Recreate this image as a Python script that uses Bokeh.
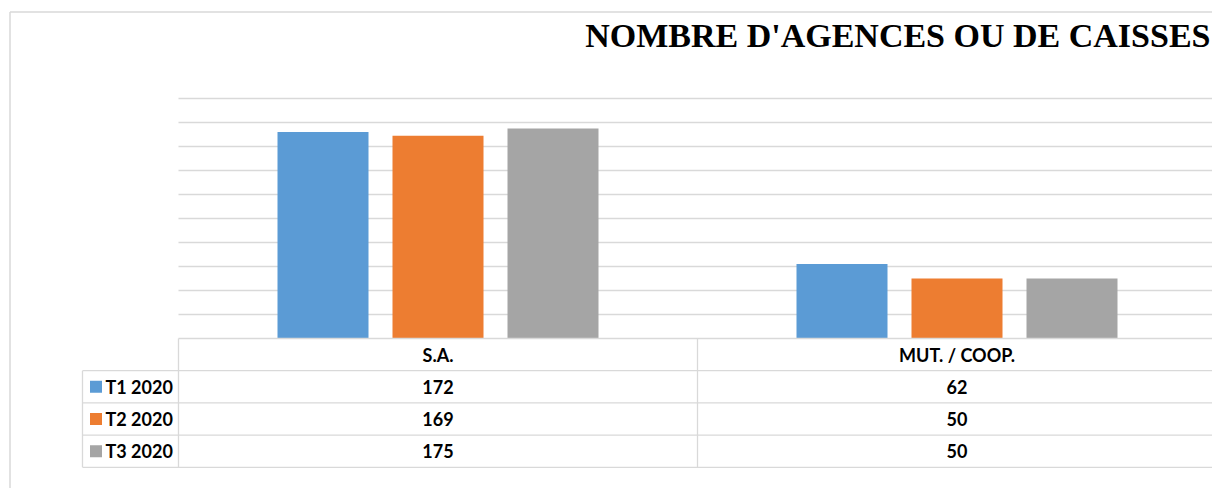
from bokeh.plotting import figure
from bokeh.models import Range1d
from bokeh.core.properties import value
from bokeh.embed import file_html
from bokeh.resources import INLINE

# ---------------- data ----------------
categories = ["S.A.", "MUT. / COOP."]
series_names = ["T1 2020", "T2 2020", "T3 2020"]
t1_2020 = [172, 62]
t2_2020 = [169, 50]
t3_2020 = [175, 50]
series_values = [t1_2020, t2_2020, t3_2020]
colors = ["#5B9BD5", "#ED7D31", "#A5A5A5"]
grid_values = [20, 40, 60, 80, 100, 120, 140, 160, 180, 200]
title_text = "NOMBRE D'AGENCES OU DE CAISSES"

# ---------------- layout (page pixels) ----------------
W, H = 1212, 488
BL, BT = 8, 10          # canvas px before the frame
CAT_PX = 519.0          # pixels per category
X0 = 178.0              # page x where the category axis starts
Y_PX = 1.2              # pixels per value unit
BASE = 338.0            # page y of the value baseline
ROW_PX = 32.2           # data table row height


def dx(px):
    return (px - X0) / CAT_PX


def dy(py):
    return (BASE - py) / Y_PX


p = figure(width=W, height=H,
           x_range=Range1d(dx(BL), dx(W)), y_range=Range1d(dy(H), dy(BT)),
           x_axis_type=None, y_axis_type=None,
           output_backend="svg", toolbar_location=None,
           min_border_left=BL, min_border_top=BT,
           min_border_right=0, min_border_bottom=0)
p.outline_line_color = None
p.background_fill_color = "white"
p.border_fill_color = "white"

GRID_C = "#d9d9d9"
x_right = dx(W + 20)

# chart area border (left and top only; the rest is cropped in the reference)
p.segment(x0=[dx(9.5), dx(9.5)], x1=[dx(9.5), x_right],
          y0=[dy(11.5), dy(11.5)], y1=[dy(H + 20), dy(11.5)],
          line_color=GRID_C, line_width=1.5)

# gridlines
p.segment(x0=[0] * len(grid_values), x1=[x_right] * len(grid_values),
          y0=grid_values, y1=grid_values, line_color=GRID_C, line_width=1.3)

# bars
bar_w = 91 / CAT_PX
offsets = [-115 / CAT_PX, 0, 115 / CAT_PX]
for vals, off, col in zip(series_values, offsets, colors):
    xs = [i + 0.5 + off for i in range(len(categories))]
    p.vbar(x=xs, top=vals, bottom=0, width=bar_w, fill_color=col, line_color=None)

# data table lines
row_y = [dy(BASE + k * ROW_PX) for k in range(len(series_names) + 2)]
leg_left = dx(82)
p.segment(x0=[0], x1=[x_right], y0=[row_y[0]], y1=[row_y[0]], line_color=GRID_C, line_width=1.3)
p.segment(x0=[leg_left] * (len(row_y) - 1), x1=[x_right] * (len(row_y) - 1),
          y0=row_y[1:], y1=row_y[1:], line_color=GRID_C, line_width=1.3)
p.segment(x0=[0, 1, 2], x1=[0, 1, 2], y0=[row_y[0]] * 3, y1=[row_y[-1]] * 3,
          line_color=GRID_C, line_width=1.3)
p.segment(x0=[leg_left], x1=[leg_left], y0=[row_y[1]], y1=[row_y[-1]],
          line_color=GRID_C, line_width=1.3)

FONT = value("Lato")
FS = "18px"

# header
p.text(x=[i + 0.5 for i in range(len(categories))],
       y=[dy(BASE + 0.5 * ROW_PX)] * len(categories),
       text=categories, text_font=FONT, text_font_style="bold", text_font_size=FS,
       text_align="center", text_baseline="middle", text_color="#000000")

# rows
for k, (name, vals, col) in enumerate(zip(series_names, series_values, colors)):
    yc = dy(BASE + (k + 1.5) * ROW_PX)
    p.scatter(x=[dx(95.5)], y=[yc], marker="square", size=12,
              fill_color=col, line_color=None)
    p.text(x=[dx(105)], y=[yc], text=[name], text_font=FONT, text_font_style="bold",
           text_font_size=FS, text_align="left", text_baseline="middle",
           text_color="#000000")
    p.text(x=[i + 0.5 for i in range(len(categories))], y=[yc] * len(categories),
           text=[str(v) for v in vals], text_font=FONT, text_font_style="bold",
           text_font_size=FS, text_align="center", text_baseline="middle",
           text_color="#000000")

# title
p.text(x=[dx(1210)], y=[dy(35)], text=[title_text],
       text_font=value("Liberation Serif"), text_font_style="bold",
       text_font_size="34px", text_align="right", text_baseline="alphabetic",
       text_color="#000000")

open("out.html", "w").write(file_html(p, INLINE))
